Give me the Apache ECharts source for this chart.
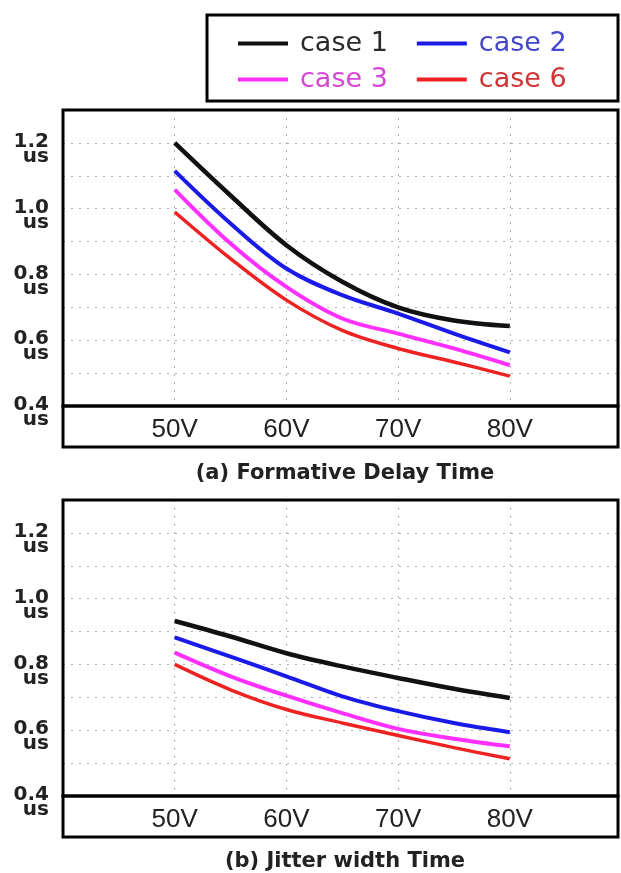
<!DOCTYPE html>
<html>
<head>
<meta charset="utf-8">
<script src="https://cdn.jsdelivr.net/npm/echarts@6/dist/echarts.min.js"></script>
<style>
html,body{margin:0;padding:0;background:#fff;}
#chart{width:621px;height:873px;}
</style>
</head>
<body>
<div id="chart"></div>
<script>
// ---- data ----
const voltages = [50, 55, 60, 65, 70, 75, 80];
const xTickLabels = [50, 60, 70, 80];
const yTickLabels = [0.4, 0.6, 0.8, 1.0, 1.2];
const seriesNames = ['case 1', 'case 2', 'case 3', 'case 6'];

// (a) Formative Delay Time (us)
const delayCase1 = [1.200, 1.040, 0.889, 0.778, 0.700, 0.660, 0.643];
const delayCase2 = [1.115, 0.955, 0.818, 0.737, 0.681, 0.620, 0.563];
const delayCase3 = [1.058, 0.894, 0.762, 0.666, 0.620, 0.575, 0.524];
const delayCase6 = [0.990, 0.848, 0.722, 0.630, 0.575, 0.534, 0.491];

// (b) Jitter width Time (us)
const jitterCase1 = [0.932, 0.885, 0.834, 0.794, 0.759, 0.726, 0.698];
const jitterCase2 = [0.882, 0.824, 0.764, 0.703, 0.658, 0.622, 0.594];
const jitterCase3 = [0.836, 0.764, 0.705, 0.652, 0.604, 0.574, 0.551];
const jitterCase6 = [0.800, 0.723, 0.663, 0.622, 0.584, 0.547, 0.513];

const captions = ['(a) Formative Delay Time', '(b) Jitter width Time'];

// ---- style ----
const lineColors = ['#111111', '#1a1ae8', '#ff30ff', '#ee2222'];
const textColors = ['#2a2a2a', '#4646c8', '#d846d8', '#d03434'];
const lineWidths = [4.5, 4, 4, 3.5];

const chart = echarts.init(document.getElementById('chart'), null, {renderer: 'canvas'});

const gridDefs = [{top: 110, height: 296}, {top: 500, height: 296}];
const GL = 63, GW = 555;

function mkX(i) {
  return {
    type: 'value', gridIndex: i, min: 40, max: 40 + GW / 11.17, interval: 10,
    axisLine: {show: false}, axisTick: {show: false},
    axisLabel: {
      customValues: xTickLabels, margin: 11,
      formatter: v => v + 'V',
      fontFamily: 'Liberation Sans', fontSize: 26, color: '#222'
    },
    splitLine: {show: true, lineStyle: {color: '#b0b0b0', width: 1, type: [2, 6]}}
  };
}
function mkY(i) {
  return {
    type: 'value', gridIndex: i, min: 0.4, max: 1.3, interval: 0.1,
    axisLine: {show: false},
    axisTick: {show: false},
    axisLabel: {
      customValues: yTickLabels, margin: 14,
      formatter: v => '{v|' + v.toFixed(1) + '}\n{u|us}',
      padding: [13, 0, 0, 0],
      rich: {
        v: {fontFamily: 'DejaVu Sans', fontWeight: 'bold', fontSize: 20, lineHeight: 15, color: '#222', align: 'right'},
        u: {fontFamily: 'DejaVu Sans', fontWeight: 'bold', fontSize: 20, lineHeight: 15, color: '#222', align: 'right'}
      }
    },
    splitLine: {show: true, lineStyle: {color: '#b0b0b0', width: 1, type: [2, 6]}}
  };
}

const dataSets = [
  [delayCase1, delayCase2, delayCase3, delayCase6],
  [jitterCase1, jitterCase2, jitterCase3, jitterCase6]
];
const series = [];
dataSets.forEach((set, gi) => {
  set.forEach((vals, si) => {
    series.push({
      name: seriesNames[si], type: 'line', xAxisIndex: gi, yAxisIndex: gi,
      data: voltages.map((x, k) => [x, vals[k]]),
      smooth: 0.35, symbol: 'none', showSymbol: false,
      lineStyle: {color: lineColors[si], width: lineWidths[si]},
      itemStyle: {color: lineColors[si]},
      z: 10 - si
    });
  });
});

function mkLegend(names, top) {
  return {
    left: 238, top: top, orient: 'horizontal', padding: 0,
    icon: 'rect', itemWidth: 50, itemHeight: 4, itemGap: 29,
    data: names.map(n => {
      const k = seriesNames.indexOf(n);
      return {name: n, icon: 'rect', itemStyle: {color: lineColors[k]}, textStyle: {color: textColors[k]}};
    }),
    textStyle: {fontFamily: 'DejaVu Sans', fontSize: 27, width: 93, padding: [0, 0, 0, 7]},
    selectedMode: false
  };
}

const graphics = [
  {type: 'rect', shape: {x: 207, y: 15, width: 411, height: 86}, style: {fill: 'none', stroke: '#000', lineWidth: 3}},
];
gridDefs.forEach((g, i) => {
  graphics.push({type: 'rect', shape: {x: GL, y: g.top + g.height, width: GW, height: 41}, style: {fill: 'none', stroke: '#000', lineWidth: 3}, z: 100});
  graphics.push({type: 'text', x: 345, y: g.top + g.height + 68 - (i === 1 ? 2 : 0),
    style: {text: captions[i], fontFamily: 'DejaVu Sans', fontWeight: 'bold', fontSize: 21, fill: '#222', textAlign: 'center', textVerticalAlign: 'middle'}});
});

chart.setOption({
  backgroundColor: '#fff',
  animation: false,
  grid: gridDefs.map(g => ({left: GL, top: g.top, width: GW, height: g.height, show: true, borderColor: '#000', borderWidth: 3, backgroundColor: 'transparent', z: 20})),
  xAxis: [mkX(0), mkX(1)],
  yAxis: [mkY(0), mkY(1)],
  legend: [mkLegend(['case 1', 'case 2'], 30), mkLegend(['case 3', 'case 6'], 66)],
  series: series,
  graphic: graphics
});
</script>
</body>
</html>
